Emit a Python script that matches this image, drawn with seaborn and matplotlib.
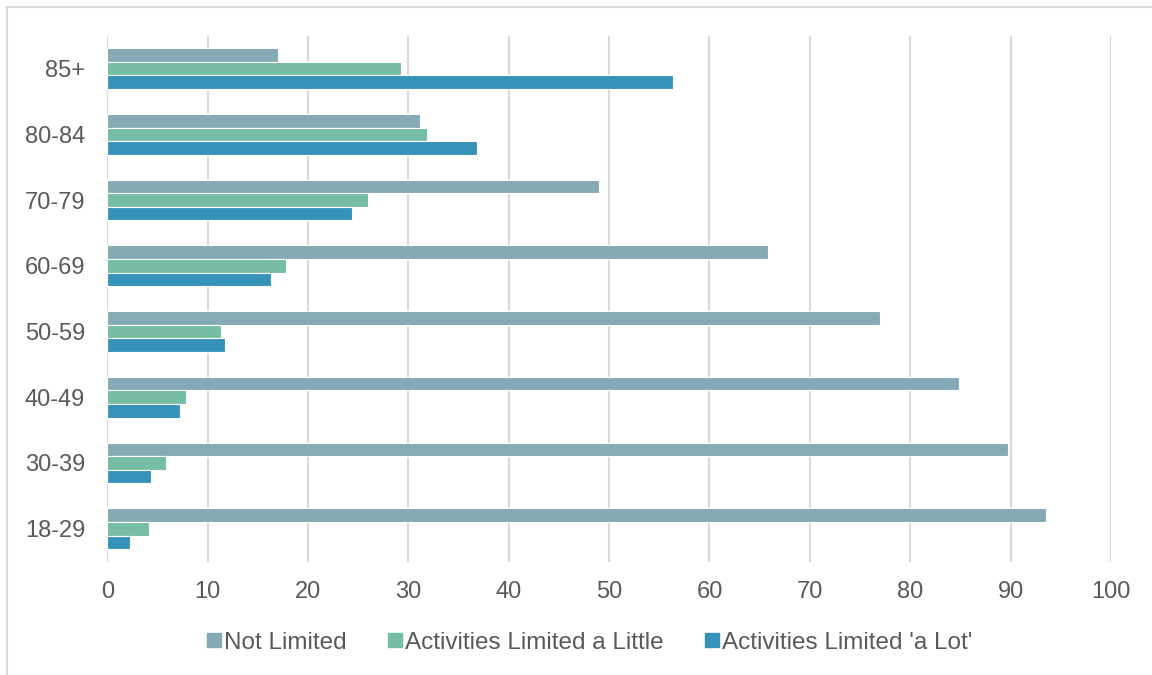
import matplotlib
matplotlib.use("Agg")
import matplotlib.pyplot as plt
from matplotlib.lines import Line2D
import seaborn as sns
import pandas as pd

# Age bands, top to bottom
age_groups = ["85+", "80-84", "70-79", "60-69", "50-59", "40-49", "30-39", "18-29"]
series_names = ["Not Limited", "Activities Limited a Little", "Activities Limited 'a Lot'"]

not_limited = [17.0, 31.2, 49.0, 65.8, 77.0, 84.9, 89.7, 93.5]
limited_little = [29.3, 31.9, 26.0, 17.8, 11.3, 7.8, 5.9, 4.2]
limited_lot = [56.4, 36.8, 24.4, 16.3, 11.7, 7.2, 4.4, 2.3]

x_ticks = [0, 10, 20, 30, 40, 50, 60, 70, 80, 90, 100]
colors = ["#84ABB5", "#75BDA5", "#3593BA"]

rows = []
for name, vals in zip(series_names, [not_limited, limited_little, limited_lot]):
    for grp, v in zip(age_groups, vals):
        rows.append({"Age": grp, "Status": name, "Percent": v})
df = pd.DataFrame(rows)

sns.set_theme(style="white")
plt.rcParams["font.family"] = ["Liberation Sans", "DejaVu Sans"]
text_color = "#595959"
grid_color = "#D9D9D9"

fig = plt.figure(figsize=(11.52, 6.75), dpi=100)
ax = fig.add_axes([0.0931, 0.168, 0.8713, 0.7791])

sns.barplot(data=df, y="Age", x="Percent", hue="Status", order=age_groups,
            hue_order=series_names, palette=colors, orient="h", width=0.62,
            edgecolor="white", linewidth=0.8, errorbar=None, ax=ax, legend=False,
            saturation=1)

ax.set_xlim(0, 100)
ax.set_ylim(len(age_groups) - 0.5, -0.5)
ax.set_xticks(x_ticks)
ax.set_xticklabels([str(t) for t in x_ticks])
ax.set_xlabel("")
ax.set_ylabel("")
ax.grid(axis="x", color=grid_color, linewidth=1.5)
ax.grid(axis="y", visible=False)
ax.set_axisbelow(True)
for s in ax.spines.values():
    s.set_visible(False)
ax.tick_params(axis="x", length=0, pad=14, labelsize=17, labelcolor=text_color)
ax.tick_params(axis="y", length=0, pad=16, labelsize=17, labelcolor=text_color)

handles = [Line2D([0], [0], marker="s", linestyle="none", markersize=9.5,
                  markerfacecolor=c, markeredgecolor=c) for c in colors]
fig.legend(handles, series_names, loc="center", bbox_to_anchor=(0.512, 0.048),
           ncol=3, frameon=False, fontsize=17.5, labelcolor=text_color,
           handlelength=0.55, handletextpad=0.15, columnspacing=1.7)

# Light frame along the top and left of the chart area
fig.add_artist(Line2D([7 / 1152, 1], [1 - 7 / 675, 1 - 7 / 675],
                      color=grid_color, linewidth=1.5, transform=fig.transFigure))
fig.add_artist(Line2D([7 / 1152, 7 / 1152], [0, 1 - 7 / 675],
                      color=grid_color, linewidth=1.5, transform=fig.transFigure))

fig.savefig("out.png", dpi=100, facecolor="white")
